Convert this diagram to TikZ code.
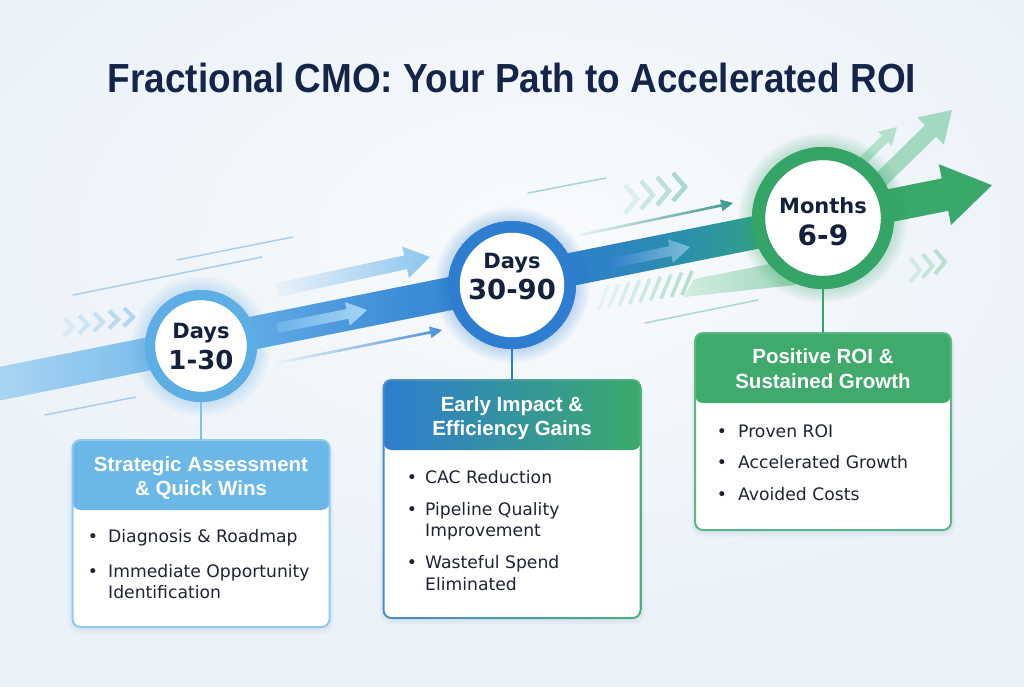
\documentclass[tikz,border=0pt]{standalone}
\usepackage{fontspec}
\usepackage{graphicx}
\usetikzlibrary{calc}
\newfontfamily\titlef{Liberation Sans}
\newfontfamily\hdrf{Liberation Sans}
\newfontfamily\bodyf{DejaVu Sans}
\definecolor{bgc}{HTML}{EAF1F8}
\definecolor{bgw}{HTML}{F9FBFD}
\definecolor{titlec}{HTML}{152449}
\definecolor{navy}{HTML}{14213D}
\definecolor{bodyc}{HTML}{1E2433}
\definecolor{bandA}{HTML}{A9D5F3}
\definecolor{bandB}{HTML}{6DB4E9}
\definecolor{bandC}{HTML}{3E8DD7}
\definecolor{bandD}{HTML}{2E7ECB}
\definecolor{bandE}{HTML}{2A8FAE}
\definecolor{bandF}{HTML}{30A087}
\definecolor{bandG}{HTML}{3AA86B}
\definecolor{lineB}{HTML}{A9CDE9}
\definecolor{lineT}{HTML}{A7D3DC}
\definecolor{lineG}{HTML}{A9D9C8}
\definecolor{chevB}{HTML}{A9D3EF}
\definecolor{chevT}{HTML}{9DD3C8}
\definecolor{chevG}{HTML}{AEDDC8}
\definecolor{arrLB}{HTML}{8CC6EE}
\definecolor{inLB}{HTML}{A6D4F4}
\definecolor{inT}{HTML}{7DBFD6}
\definecolor{thinB}{HTML}{4A94D8}
\definecolor{thinT}{HTML}{3A9A8C}
\definecolor{upG1}{HTML}{B4E1CC}
\definecolor{upG2}{HTML}{A3D9C0}
\definecolor{ribL}{HTML}{D3EDE1}
\definecolor{ribR}{HTML}{9FD6BC}
\definecolor{ring1}{HTML}{5EAEE6}
\definecolor{ring2}{HTML}{2F7DD0}
\definecolor{ring3}{HTML}{35A567}
\definecolor{hd1}{HTML}{6BB8E8}
\definecolor{hd2L}{HTML}{2E7DD0}
\definecolor{hd2R}{HTML}{3BAA6A}
\definecolor{hd3}{HTML}{3FAA6C}
\definecolor{bd1}{HTML}{8FC9EE}
\definecolor{bd2L}{HTML}{4A8CCB}
\definecolor{bd2R}{HTML}{4DB07A}
\definecolor{bd3}{HTML}{5BB783}
\definecolor{conn1}{HTML}{7FBFEA}
\definecolor{shadowc}{HTML}{7A9CC0}
\pgfdeclarehorizontalshading{bandshade}{100bp}{color(0bp)=(bandA); color(25.9bp)=(bandA); color(35.8bp)=(bandB); color(45.7bp)=(bandC); color(54.2bp)=(bandD); color(59.6bp)=(bandE); color(63.5bp)=(bandF); color(68.4bp)=(bandG); color(100bp)=(bandG)}
% tail, tip, shaft half width, head half width, head length, style
\newcommand{\fatarrow}[6]{%
  \coordinate (faB) at ($(#2)!#5!(#1)$);
  \path[#6] ($(#1)!#3!90:(#2)$) -- ($(faB)!#3!90:(#2)$) -- ($(faB)!#4!90:(#2)$) -- (#2)
    -- ($(faB)!#4!-90:(#2)$) -- ($(faB)!#3!-90:(#2)$) -- ($(#1)!#3!-90:(#2)$) -- cycle;}
\newcommand{\chev}[5]{% tip x, tip y, width, half height, style
  \draw[#5] (#1-#3,#2-#4) -- (#1,#2) -- (#1-#3,#2+#4);}
\newcommand{\bitem}[5]{%
  \node[bod, anchor=base] (#1b) at (#2,#4) {\textbullet};
  \node[bod, anchor=base west] (#1) at (#3,#4) {#5};}
\newcommand{\bline}[4]{\node[bod, anchor=base west] (#1) at (#2,#3) {#4};}
\tikzset{
  hdr/.style={font=\hdrf\bfseries\fontsize{20.5}{24}\selectfont, text=white, inner sep=0pt},
  bod/.style={font=\bodyf\fontsize{17.2}{20}\selectfont, text=bodyc, inner sep=0pt},
  ctxtS/.style={font=\bodyf\bfseries\fontsize{21}{24}\selectfont, text=navy, inner sep=0pt},
  thinline/.style={line width=1.5pt, line cap=round},
  boxnode/.style={rectangle, rounded corners=8pt, fill=white, inner sep=0pt, outer sep=0pt},
  ringnode/.style={circle, fill=white, inner sep=0pt, outer sep=0pt},
  connline/.style={line width=2.5pt}
}
\begin{document}
\begin{tikzpicture}[x=1pt,y=-1pt]
\useasboundingbox (0,0) rectangle (1024,687);
\clip (0,0) rectangle (1024,687);
% background
\fill[bgc] (0,0) rectangle (1024,687);
\shade[inner color=bgw, outer color=bgc] (540,240) ellipse (620 and 380);

% thin speed lines
\draw[thinline, lineB] (73,295) -- (262,257);
\draw[thinline, lineB] (177,260) -- (293,237);
\draw[thinline, lineB] (45,415) -- (136,397);
\draw[thinline, lineT] (528,193) -- (606,178);
\draw[thinline, lineG] (645,323) -- (758,300);

% chevrons
\foreach \i in {0,...,4} {\chev{73+15*\i}{327-2.5*\i}{9}{9}{chevB, line width=4pt, opacity=0.3+0.15*\i}}
\foreach \i in {0,...,3} {\chev{637+16*\i}{199-4*\i}{12}{14}{chevT, line width=4.5pt, opacity=0.3+0.18*\i}}
\foreach \i in {0,...,2} {\chev{920+12.5*\i}{270-4*\i}{10}{12}{chevG, line width=4pt, opacity=0.45+0.2*\i}}

% hatch stripes
\foreach \i in {0,...,8} {
  \pgfmathsetmacro\xa{598+10.5*\i}
  \pgfmathsetmacro\yb{310-0.18*10.5*\i}
  \draw[chevG, line width=3.5pt, opacity=0.2+0.09*\i] (\xa,\yb) -- (\xa+10,\yb-24);
}
% light green ribbon
\shade[left color=ribL, right color=ribR] (684,297) -- (694,279) -- (795,259) -- (795,285) -- cycle;

% up-right green arrows
\fatarrow{845,178}{897,127}{4.5pt}{10pt}{17pt}{fill=upG1}
\fatarrow{860,200}{952,110}{8pt}{19pt}{30pt}{fill=upG2}

% decorative arrows around the band
\fatarrow{277,290}{430,257}{7pt}{16pt}{25pt}{left color=bgc, right color=arrLB}
\fatarrow{277,363}{442,330}{1.3pt}{6pt}{12pt}{left color=bgc, right color=thinB}
\fatarrow{580,235}{733,203}{1.3pt}{6pt}{12pt}{left color=bgc, right color=thinT}

% main band arrow
\fatarrow{-15,386.6}{992,185.2}{16.5pt}{31pt}{48pt}{shade, shading=bandshade}

% arrows inside band
\fatarrow{277,328}{367,310}{5pt}{12pt}{20pt}{left color=bandB, right color=inLB}
\fatarrow{608,264}{690,247}{5pt}{12pt}{20pt}{left color=bandD, right color=inT}

% circle glows
\foreach \k in {1,...,7} {
  \fill[ring1, opacity=0.04] (201,346) circle (56+2*\k);
  \fill[ring2, opacity=0.04] (512,285) circle (64+2*\k);
  \fill[ring3, opacity=0.04] (823,218) circle (71+2*\k);
}

% box shadows
\foreach \k in {1,...,4} {
  \fill[shadowc, opacity=0.035, rounded corners=10pt] (72.5-\k,443) rectangle (329.5+\k,628+1.5*\k);
  \fill[shadowc, opacity=0.035, rounded corners=10pt] (383.5-\k,383) rectangle (640.5+\k,619+1.5*\k);
  \fill[shadowc, opacity=0.035, rounded corners=10pt] (695-\k,336) rectangle (951+\k,531+1.5*\k);
}

% boxes
\node[boxnode, minimum width=257pt, minimum height=187pt,
  path picture={\fill[hd1] (path picture bounding box.north west) rectangle ([yshift=-70pt]path picture bounding box.north east);}]
  (b1) at (201,533.5) {};
\node[boxnode, minimum width=257pt, minimum height=238pt,
  path picture={\shade[left color=hd2L, right color=hd2R] (path picture bounding box.north west) rectangle ([yshift=-70pt]path picture bounding box.north east);}]
  (b2) at (512,499) {};
\node[boxnode, minimum width=256pt, minimum height=197pt,
  path picture={\fill[hd3] (path picture bounding box.north west) rectangle ([yshift=-70pt]path picture bounding box.north east);}]
  (b3) at (823,431.5) {};
% box borders
\fill[bd1, even odd rule] [rounded corners=9pt] ([xshift=-1pt,yshift=1pt]b1.north west) rectangle ([xshift=1pt,yshift=-1pt]b1.south east)
  [rounded corners=7pt] ([xshift=1pt,yshift=-1pt]b1.north west) rectangle ([xshift=-1pt,yshift=1pt]b1.south east);
\shade[left color=bd2L, right color=bd2R, even odd rule] [rounded corners=9pt] ([xshift=-1pt,yshift=1pt]b2.north west) rectangle ([xshift=1pt,yshift=-1pt]b2.south east)
  [rounded corners=7pt] ([xshift=1pt,yshift=-1pt]b2.north west) rectangle ([xshift=-1pt,yshift=1pt]b2.south east);
\fill[bd3, even odd rule] [rounded corners=9pt] ([xshift=-1pt,yshift=1pt]b3.north west) rectangle ([xshift=1pt,yshift=-1pt]b3.south east)
  [rounded corners=7pt] ([xshift=1pt,yshift=-1pt]b3.north west) rectangle ([xshift=-1pt,yshift=1pt]b3.south east);

% header texts
\node[hdr, anchor=base] (h1a) at (201,471.7) {Strategic Assessment};
\node[hdr, anchor=base] (h1b) at (201,495) {\& Quick Wins};
\node[hdr, anchor=base] (h2a) at (512,411.7) {Early Impact \&};
\node[hdr, anchor=base] (h2b) at (512,435) {Efficiency Gains};
\node[hdr, anchor=base] (h3a) at (823,363) {Positive ROI \&};
\node[hdr, anchor=base] (h3b) at (823,388) {Sustained Growth};

% bullet items
\bitem{i11}{93}{108}{542}{Diagnosis \& Roadmap}
\bitem{i12}{93}{108}{577}{Immediate Opportunity}
\bline{i12c}{108}{598}{Identification}
\bitem{i21}{412}{425}{483}{CAC Reduction}
\bitem{i22}{412}{425}{515}{Pipeline Quality}
\bline{i22c}{425}{536}{Improvement}
\bitem{i23}{412}{425}{568}{Wasteful Spend}
\bline{i23c}{425}{590}{Eliminated}
\bitem{i31}{722}{738}{437}{Proven ROI}
\bitem{i32}{722}{738}{468}{Accelerated Growth}
\bitem{i33}{722}{738}{500}{Avoided Costs}

% circles
\node[ringnode, draw=ring1, line width=10pt, minimum size=102pt] (c1) at (201,346) {};
\node[ringnode, draw=ring2, line width=11.5pt, minimum size=116.5pt] (c2) at (512,285) {};
\node[ringnode, draw=ring3, line width=13pt, minimum size=129pt] (c3) at (823,218) {};

% connectors
\draw[connline, conn1] (c1.south) -- (b1.north);
\draw[connline, ring2] (c2.south) -- (b2.north);
\draw[connline, ring3] (c3.south) -- (b3.north);
% redraw rings over connector ends
\draw[ring1, line width=10pt] (c1) circle (51);
\draw[ring2, line width=11.5pt] (c2) circle (58.25);
\draw[ring3, line width=13pt] (c3) circle (64.5);

% circle texts
\node[ctxtS, anchor=base] (c1a) at (201,338) {Days};
\node[ctxtS, font=\bodyf\bfseries\fontsize{26}{28}\selectfont, anchor=base] (c1b) at (201,369) {1-30};
\node[ctxtS, anchor=base] (c2a) at (512,268) {Days};
\node[ctxtS, font=\bodyf\bfseries\fontsize{27.5}{30}\selectfont, anchor=base] (c2b) at (512,299) {30-90};
\node[ctxtS, anchor=base] (c3a) at (823,213) {Months};
\node[ctxtS, font=\bodyf\bfseries\fontsize{28}{30}\selectfont, anchor=base] (c3b) at (823,245) {6-9};

% title
\node[anchor=base, inner sep=0pt, text=titlec] (title) at (512,93)
  {\scalebox{1}[1.1]{\resizebox{808pt}{!}{\titlef\bfseries Fractional CMO: Your Path to Accelerated ROI}}};
\end{tikzpicture}
\end{document}
